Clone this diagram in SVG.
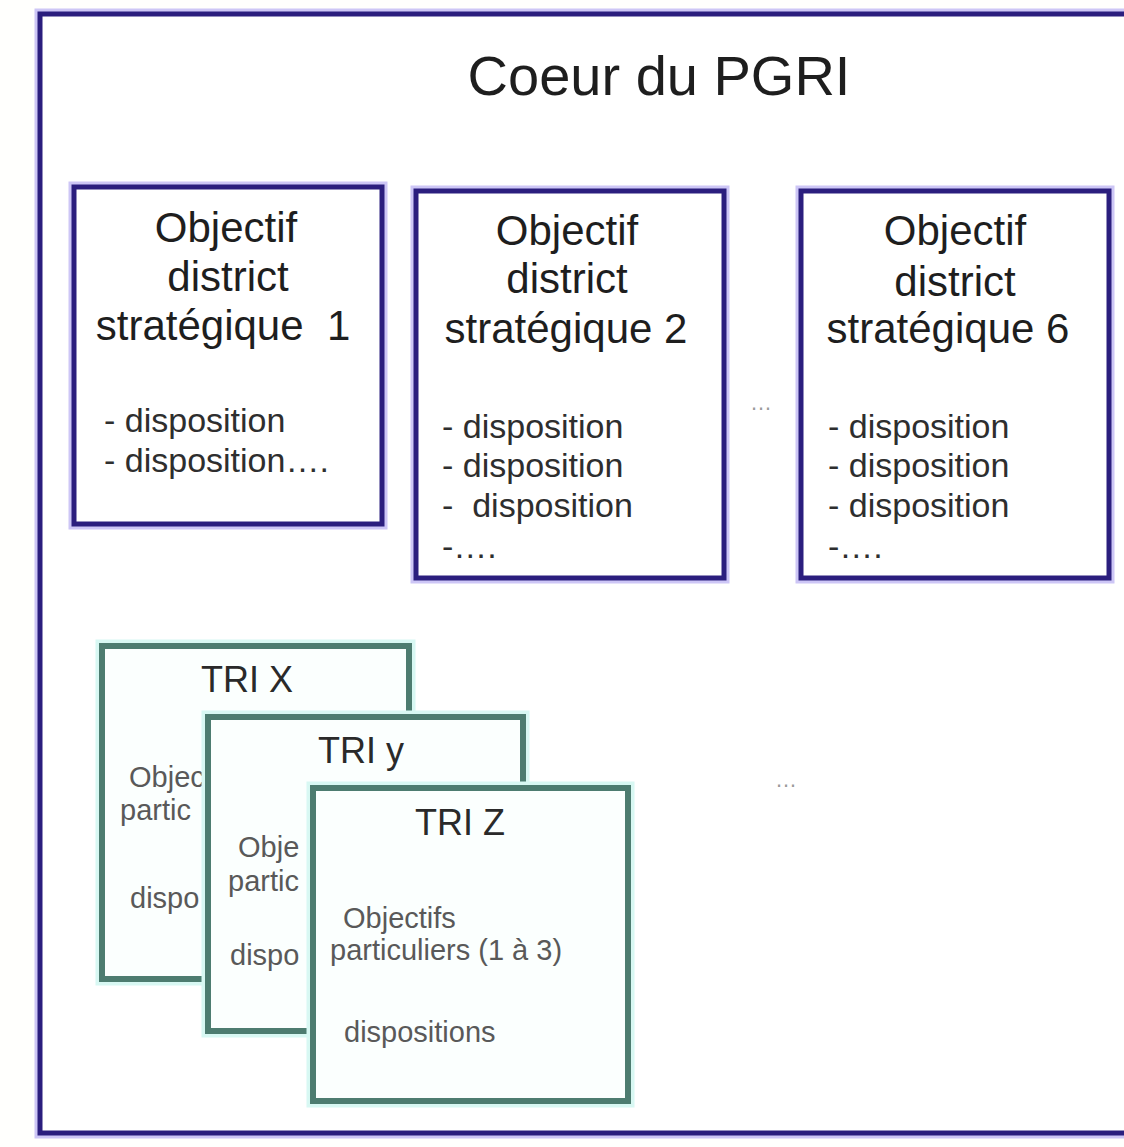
<svg xmlns="http://www.w3.org/2000/svg" width="1124" height="1147" viewBox="0 0 1124 1147">
  <style>
    text { font-family: "Liberation Sans", Arial, sans-serif; }
    .halo-n { fill: none; stroke: #cdc6f6; stroke-width: 11; }
    .frame-n { fill: #ffffff; stroke: #2b1e7e; stroke-width: 5; }
    .halo-t { fill: none; stroke: #d8f8f3; stroke-width: 13; }
    .frame-t { fill: #fbfffe; stroke: #4d7c70; stroke-width: 6; }
    .head { font-size: 42px; fill: #1e1e1e; text-anchor: middle; }
    .disp { font-size: 34px; fill: #2e2e2e; }
    .tri-h { font-size: 36px; fill: #2a2a2a; text-anchor: middle; }
    .tri-b { font-size: 29px; fill: #595959; }
    .dots { font-size: 22px; fill: #9a9a9a; }
  </style>

  <rect x="0" y="0" width="1124" height="1147" fill="#fffffd"/>

  <!-- outer frame -->
  <g id="frame">
    <rect class="halo-n" x="40" y="14" width="1120" height="1119"/>
    <rect class="frame-n" x="40" y="14" width="1120" height="1119"/>
    <text x="659" y="95" font-size="56" fill="#1e1e1e" text-anchor="middle">Coeur du PGRI</text>
  </g>

  <g id="connectors"/>

  <!-- strategic objectives -->
  <g id="objectif-1">
    <rect class="halo-n" x="74" y="187" width="308" height="337"/>
    <rect class="frame-n" x="74" y="187" width="308" height="337"/>
    <text class="head" x="226" y="242">Objectif</text>
    <text class="head" x="228" y="291">district</text>
    <text class="head" x="223" y="340" xml:space="preserve">stratégique  1</text>
    <text class="disp" x="104" y="432">- disposition</text>
    <text class="disp" x="104" y="472">- disposition….</text>
  </g>

  <g id="objectif-2">
    <rect class="halo-n" x="416" y="191" width="308" height="387"/>
    <rect class="frame-n" x="416" y="191" width="308" height="387"/>
    <text class="head" x="567" y="245">Objectif</text>
    <text class="head" x="567" y="293">district</text>
    <text class="head" x="566" y="343">stratégique 2</text>
    <text class="disp" x="442" y="438">- disposition</text>
    <text class="disp" x="442" y="477">- disposition</text>
    <text class="disp" x="442" y="517" xml:space="preserve">-  disposition</text>
    <text class="disp" x="442" y="558">-….</text>
  </g>

  <g id="objectif-6">
    <rect class="halo-n" x="801" y="191" width="308" height="387"/>
    <rect class="frame-n" x="801" y="191" width="308" height="387"/>
    <text class="head" x="955" y="245">Objectif</text>
    <text class="head" x="955" y="296">district</text>
    <text class="head" x="948" y="343">stratégique 6</text>
    <text class="disp" x="828" y="438">- disposition</text>
    <text class="disp" x="828" y="477">- disposition</text>
    <text class="disp" x="828" y="517">- disposition</text>
    <text class="disp" x="828" y="558">-….</text>
  </g>

  <g id="ellipsis-top">
    <text class="dots" x="750" y="410">…</text>
  </g>
  <g id="ellipsis-bottom">
    <text class="dots" x="775" y="787">…</text>
  </g>

  <!-- TRI cards, stacked; the back cards only show the start of each line -->
  <g id="tri-x">
    <rect class="halo-t" x="102" y="646" width="307" height="333"/>
    <rect class="frame-t" x="102" y="646" width="307" height="333"/>
    <text class="tri-h" x="247" y="692">TRI X</text>
    <text class="tri-b" x="129" y="787">Objec</text>
    <text class="tri-b" x="120" y="820">partic</text>
    <text class="tri-b" x="130" y="908">dispo</text>
  </g>

  <g id="tri-y">
    <rect class="halo-t" x="208" y="717" width="315" height="314"/>
    <rect class="frame-t" x="208" y="717" width="315" height="314"/>
    <text class="tri-h" x="361" y="763">TRI y</text>
    <text class="tri-b" x="238" y="857">Obje</text>
    <text class="tri-b" x="228" y="891">partic</text>
    <text class="tri-b" x="230" y="965">dispo</text>
  </g>

  <g id="tri-z">
    <rect class="halo-t" x="313" y="788" width="315" height="313"/>
    <rect class="frame-t" x="313" y="788" width="315" height="313"/>
    <text class="tri-h" x="460" y="835">TRI Z</text>
    <text class="tri-b" x="343" y="928">Objectifs</text>
    <text class="tri-b" x="330" y="960">particuliers (1 à 3)</text>
    <text class="tri-b" x="344" y="1042">dispositions</text>
  </g>
</svg>
